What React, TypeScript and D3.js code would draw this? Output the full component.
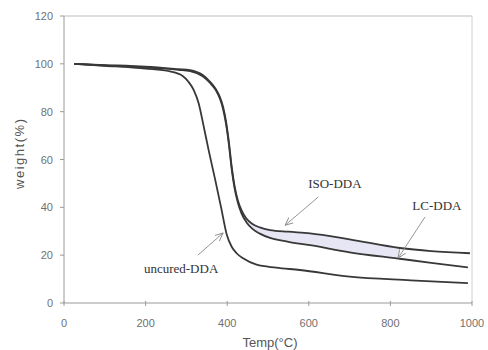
import React from "react";
import * as d3 from "d3";

const xTicks = [0, 200, 400, 600, 800, 1000];
const yTicks = [0, 20, 40, 60, 80, 100, 120];

const uncuredT = [25, 100, 200, 260, 290, 305, 318, 330, 341, 355, 370, 385, 399, 411, 423, 440, 472, 520, 578, 700, 850, 990];
const uncuredW = [100, 99.2, 98, 96.8, 95, 92.5, 89, 83.5, 75, 63.5, 52, 40, 28.5, 23.5, 20.8, 18.6, 16, 14.8, 13.8, 11, 9.5, 8.3];

const isoT = [25, 100, 200, 280, 309, 340, 358, 372, 382, 390, 397, 404, 411, 418, 426, 435, 447, 462, 480, 505, 550, 603, 700, 823, 900, 995];
const isoW = [100, 99.5, 98.8, 97.8, 97.4, 95.3, 92.5, 89.5, 86.2, 82, 76, 67.5, 57, 49, 43, 38.8, 35.3, 33, 31.6, 30.5, 29.8, 29.1, 26.6, 23, 21.7, 20.8];

const lcT = [25, 100, 200, 280, 309, 340, 358, 372, 382, 390, 397, 404, 411, 418, 426, 435, 447, 462, 480, 505, 550, 603, 700, 823, 900, 990];
const lcW = [100, 99.3, 98.5, 97.5, 97.0, 94.8, 92, 89, 85.5, 81, 75, 66.5, 56, 48, 42, 37.5, 33.8, 31, 29, 27.2, 25.6, 24.2, 21.2, 18.5, 16.8, 14.9];

const fillRange = [428, 820];

const labelTexts = ["ISO-DDA", "LC-DDA", "uncured-DDA"];
const labelT = [664, 914, 287];
const labelW = [48, 38.9, 12.5];
const arrowFromT = [623, 885, 328];
const arrowFromW = [44.3, 36, 20];
const arrowToT = [542, 819, 390];
const arrowToW = [32.5, 18.8, 29.3];

export default function App() {
  const W = 488, H = 350;
  const x = d3.scaleLinear().domain([0, 1000]).range([64, 472]);
  const y = d3.scaleLinear().domain([0, 120]).range([303, 16]);
  const gen = d3
    .line<[number, number]>()
    .x((d) => x(d[0]))
    .y((d) => y(d[1]))
    .curve(d3.curveMonotoneX);
  const uncured: [number, number][] = uncuredT.map((t, i) => [t, uncuredW[i]]);
  const iso: [number, number][] = isoT.map((t, i) => [t, isoW[i]]);
  const lc: [number, number][] = lcT.map((t, i) => [t, lcW[i]]);
  const lcRev = [...lc].reverse();
  const fillPath = (gen(iso) || "") + "L" + (gen(lcRev) || "").slice(1) + "Z";

  const axisColor = "#9a9a9a";
  const tickFont = "'Liberation Sans', Arial, sans-serif";

  return (
    <svg width={W} height={H} style={{ position: "absolute", left: 0, top: 0, background: "#fff" }}>
      <defs>
        <clipPath id="fillclip">
          <rect x={x(fillRange[0])} y={0} width={x(fillRange[1]) - x(fillRange[0])} height={H} />
        </clipPath>
        <marker id="arr" viewBox="0 0 10 10" refX="9" refY="5" markerWidth="9" markerHeight="9" orient="auto" markerUnits="userSpaceOnUse">
          <path d="M0,1 L9,5 L0,9" fill="none" stroke="#8a8a8a" strokeWidth="1" />
        </marker>
      </defs>
      <rect x={0} y={0} width={W} height={H} fill="#fff" />
      <line x1={x(0)} x2={x(1000)} y1={y(120)} y2={y(120)} stroke="#bdbdbd" strokeWidth={1} />
      <line x1={x(1000)} x2={x(1000)} y1={y(120)} y2={y(0)} stroke="#d0d0d0" strokeWidth={1} />
      <line x1={x(0)} x2={x(0)} y1={y(120)} y2={y(0)} stroke={axisColor} strokeWidth={1} />
      <line x1={x(0)} x2={x(1000)} y1={y(0)} y2={y(0)} stroke={axisColor} strokeWidth={1} />
      {yTicks.map((t) => (
        <g key={"y" + t}>
          <line x1={x(0) - 4} x2={x(0)} y1={y(t)} y2={y(t)} stroke={axisColor} />
          <text x={53} y={y(t) + 4} textAnchor="end" fontSize={11} fontFamily={tickFont} fill="#707070">
            {t}
          </text>
        </g>
      ))}
      {xTicks.map((t) => (
        <g key={"x" + t}>
          <line x1={x(t)} x2={x(t)} y1={y(0) - 2} y2={y(0) + 3} stroke={axisColor} />
          <text x={x(t)} y={327} textAnchor="middle" fontSize={11} fontFamily={tickFont} fill="#707070">
            {t}
          </text>
        </g>
      ))}
      <text x={270} y={347} textAnchor="middle" fontSize={13} fontFamily={tickFont} fill="#555">
        Temp(°C)
      </text>
      <text transform={`translate(24,154) rotate(-90)`} textAnchor="middle" fontSize={13} fontFamily={tickFont} fill="#555" textLength={70} lengthAdjust="spacing">
        weight(%)
      </text>
      <path d={fillPath} fill="#e6e6f5" stroke="none" clipPath="url(#fillclip)" />
      {[uncured, iso, lc].map((d, i) => (
        <path key={i} d={gen(d) || ""} fill="none" stroke="#383838" strokeWidth={1.8} />
      ))}
      {labelTexts.map((s, i) => (
        <g key={s}>
          <line
            x1={x(arrowFromT[i])}
            y1={y(arrowFromW[i])}
            x2={x(arrowToT[i])}
            y2={y(arrowToW[i])}
            stroke="#8a8a8a"
            strokeWidth={0.9}
            markerEnd="url(#arr)"
          />
          <text x={x(labelT[i])} y={y(labelW[i])} textAnchor="middle" fontSize={13} fontFamily="'Liberation Serif', 'Times New Roman', serif" fill="#333">
            {s}
          </text>
        </g>
      ))}
    </svg>
  );
}
